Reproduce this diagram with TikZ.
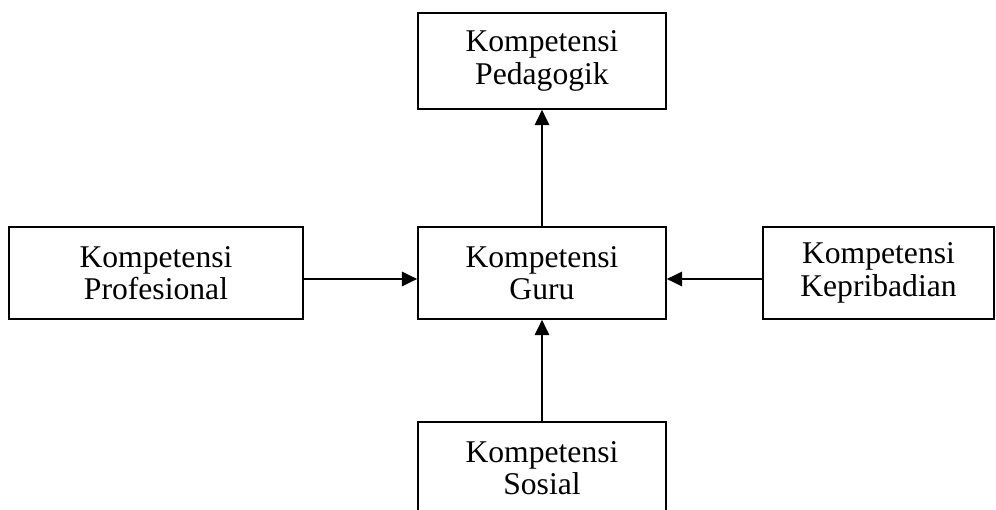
\documentclass[tikz,border=0pt]{standalone}
\usepackage{fontspec}
\setmainfont{Liberation Serif}
\usetikzlibrary{arrows.meta, positioning}

\begin{document}
\begin{tikzpicture}[
  x=0.025cm, y=-0.025cm,
  box/.style={
    draw, line width=1.2pt, minimum height=2.3cm, align=center,
    inner sep=0pt, font=\fontsize{22.5}{23}\selectfont
  },
  conn/.style={-{Triangle[length=0.38cm, width=0.36cm]}, line width=1.2pt},
]

% ---------------------------------------------------------------
% Geometry in pixels of the page (996 x 510), y runs downwards
% ---------------------------------------------------------------
\useasboundingbox (0,0) rectangle (996,510);

% ===== Centre box =====
\node[box, minimum width=6.2cm] (guru) at (542, 273) {Kompetensi\\Guru};

% ===== Surrounding boxes =====
\node[box, minimum width=6.2cm, minimum height=2.4cm]
  (pedagogik) at (542, 61) {Kompetensi\\Pedagogik};
\node[box, minimum width=7.35cm] (profesional) at (156, 273) {Kompetensi\\Profesional};
\node[box, minimum width=5.775cm] (kepribadian) at (878.5, 273) {Kompetensi\\Kepribadian};
\node[box, minimum width=6.2cm] (sosial) at (542, 468) {Kompetensi\\Sosial};

% ===== Arrows =====
\draw[conn] (guru) -- (pedagogik);
\draw[conn] (sosial) -- (guru);
\draw[conn] ([yshift=-0.15cm]profesional.east) -- ([yshift=-0.15cm]guru.west);
\draw[conn] ([yshift=-0.15cm]kepribadian.west) -- ([yshift=-0.15cm]guru.east);

\end{tikzpicture}
\end{document}
